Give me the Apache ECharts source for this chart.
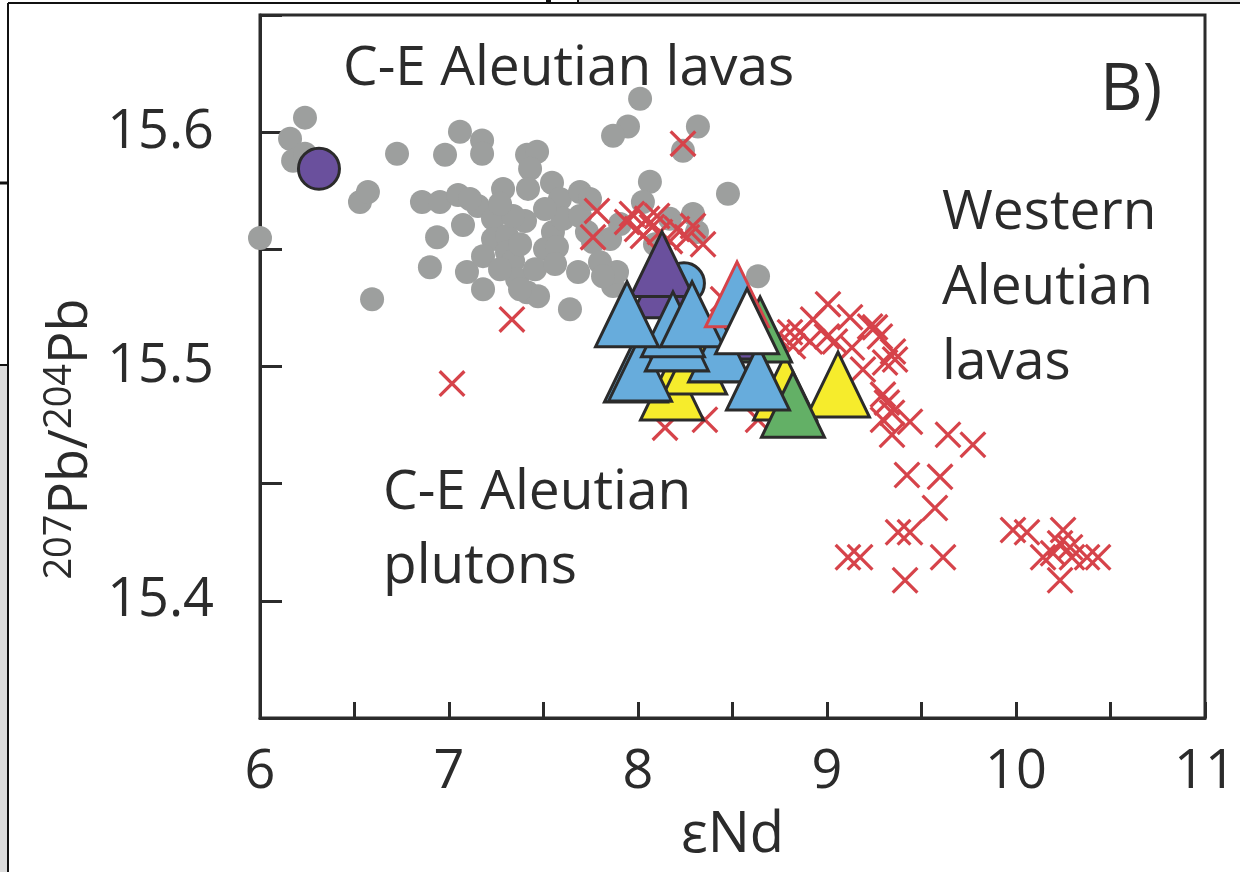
<!DOCTYPE html>
<html>
<head>
<meta charset="utf-8">
<title>207Pb/204Pb vs eNd</title>
<script src="https://cdn.jsdelivr.net/npm/echarts@6/dist/echarts.min.js"></script>
<style>
html, body { margin: 0; padding: 0; background: #fff; }
#chart { width: 1240px; height: 872px; }
</style>
</head>
<body>
<div id="chart"></div>
<script>
// eNd vs 207Pb/204Pb
const ceLavas = [
  [6.000, 15.5548], [6.159, 15.5972], [6.175, 15.5878], [6.238, 15.6062], [6.238, 15.5908],
  [6.529, 15.5702], [6.571, 15.5745], [6.593, 15.5287], [6.725, 15.5908], [6.857, 15.5702],
  [6.952, 15.5702], [7.048, 15.5732], [6.979, 15.5904], [7.058, 15.6002], [7.175, 15.5964],
  [7.175, 15.5908], [7.413, 15.5904], [7.466, 15.5916], [7.429, 15.5844], [7.545, 15.5784],
  [7.286, 15.5758], [7.153, 15.5685], [7.074, 15.5604], [6.937, 15.5552], [6.899, 15.5424],
  [7.095, 15.5403], [7.180, 15.5330], [7.233, 15.5630], [7.233, 15.5544], [7.180, 15.5471],
  [7.307, 15.5557], [7.307, 15.5488], [7.339, 15.5450], [7.360, 15.5373], [7.413, 15.5317],
  [7.471, 15.5300], [7.402, 15.5621], [7.339, 15.5642], [7.587, 15.5715], [7.550, 15.5574],
  [7.508, 15.5501], [7.693, 15.5745], [7.852, 15.5544], [7.762, 15.5531], [7.799, 15.5445],
  [7.683, 15.5403], [7.640, 15.5244], [7.868, 15.5343], [7.889, 15.5403], [8.011, 15.6143],
  [7.947, 15.6024], [7.868, 15.5985], [8.063, 15.5788], [8.026, 15.5702], [8.317, 15.6024],
  [8.238, 15.5921], [8.476, 15.5737], [8.291, 15.5651], [8.169, 15.5630], [8.312, 15.5574],
  [8.635, 15.5385], [7.418, 15.5758], [7.603, 15.5630], [7.693, 15.5642], [7.571, 15.5510],
  [7.730, 15.5574], [7.376, 15.5330], [7.815, 15.5385], [7.111, 15.5715], [7.270, 15.5694],
  [7.508, 15.5672], [7.376, 15.5522], [7.270, 15.5415], [7.455, 15.5415], [7.561, 15.5437],
  [7.746, 15.5715], [7.905, 15.5608], [8.090, 15.5522]
];

const westLavas = [
  [7.016, 15.4927], [7.333, 15.5201], [8.238, 15.5951], [7.783, 15.5664], [7.762, 15.5552],
  [7.942, 15.5617], [7.995, 15.5587], [8.048, 15.5630], [8.026, 15.5557], [8.101, 15.5642],
  [8.116, 15.5574], [8.206, 15.5587], [8.291, 15.5600], [8.344, 15.5522], [8.259, 15.5552],
  [8.169, 15.5535], [7.968, 15.5651], [8.074, 15.5595], [8.143, 15.4739], [8.354, 15.4773],
  [8.635, 15.4773], [8.450, 15.5287], [8.566, 15.5073], [9.005, 15.5266], [9.122, 15.5210],
  [9.254, 15.5167], [9.349, 15.5064], [9.360, 15.5030], [8.910, 15.5107], [9.042, 15.5107],
  [9.132, 15.5081], [9.190, 15.4987], [9.296, 15.4880], [9.317, 15.4846], [9.344, 15.4803],
  [9.296, 15.4773], [9.344, 15.4709], [9.439, 15.4764], [9.640, 15.4709], [9.772, 15.4666],
  [9.423, 15.4537], [9.598, 15.4529], [9.571, 15.4396], [9.376, 15.4293], [9.439, 15.4293],
  [9.111, 15.4186], [9.175, 15.4186], [9.614, 15.4186], [9.413, 15.4088], [9.984, 15.4302],
  [10.058, 15.4293], [10.249, 15.4302], [10.233, 15.4246], [10.143, 15.4186], [10.296, 15.4186],
  [10.376, 15.4186], [10.434, 15.4186], [10.233, 15.4088], [10.286, 15.4229], [10.196, 15.4203],
  [8.857, 15.5146], [8.804, 15.5146], [8.735, 15.5128], [8.820, 15.5086], [8.926, 15.5201],
  [9.000, 15.5128], [9.228, 15.5171], [9.280, 15.5128], [9.307, 15.5017]
];

// C-E Aleutian plutons
const yellowTri = [[8.180, 15.4910], [8.302, 15.5021], [8.778, 15.4910], [9.058, 15.4923]];
const greenTri = [[8.646, 15.5158], [8.820, 15.4837]];
const blueCircle = [[8.243, 15.5355]];
const purpleTri = [[8.503, 15.5171], [8.127, 15.5347], [8.127, 15.5437]];
const blueTri = [
  [8.434, 15.5073], [7.989, 15.4987], [8.011, 15.4991], [8.206, 15.5120], [8.185, 15.5180],
  [7.942, 15.5223], [8.286, 15.5223], [8.635, 15.4953]
];
const blueRedTri = [[8.524, 15.5308]];
const whiteTri = [[8.577, 15.5193]];
const purpleCircle = [[6.312, 15.5844]];

const xTicks = [6, 7, 8, 9, 10, 11];
const yTicks = [15.4, 15.5, 15.6];

const ink = '#2b2b2b';
const font = '"Open Sans", sans-serif';
const crossPath = 'path://M0,1.7L1.7,0L20,18.3L18.3,20ZM18.3,0L20,1.7L1.7,20L0,18.3Z';

function triSeries(data, color, border, z) {
  return {
    type: 'scatter', data: data, symbol: 'triangle', symbolSize: [63, 65], z: z,
    itemStyle: { color: color, borderColor: border || ink, borderWidth: 3, opacity: 1 }
  };
}

const chart = echarts.init(document.getElementById('chart'));
chart.setOption({
  animation: false,
  backgroundColor: '#fff',
  grid: { left: 260, right: 35, top: 15, bottom: 154, show: true, borderColor: ink, borderWidth: 3 },
  xAxis: {
    type: 'value', min: 6, max: 11, interval: 0.5,
    name: 'εNd', nameLocation: 'middle', nameGap: 90,
    nameTextStyle: { fontFamily: font, fontSize: 56, color: ink },
    axisLine: { lineStyle: { color: ink, width: 3 } },
    axisTick: { inside: true, length: 16, lineStyle: { color: ink, width: 3 } },
    splitLine: { show: false },
    axisLabel: {
      margin: 28, fontFamily: font, fontSize: 54, color: ink,
      formatter: function (v) { return xTicks.indexOf(v) >= 0 ? String(v) : ''; }
    }
  },
  yAxis: {
    type: 'value', min: 15.35, max: 15.65, interval: 0.05,
    axisLine: { lineStyle: { color: ink, width: 3 } },
    axisTick: { inside: true, length: 22, lineStyle: { color: ink, width: 3 } },
    splitLine: { show: false },
    axisLabel: {
      margin: 46, fontFamily: font, fontSize: 54, color: ink,
      formatter: function (v) {
        for (let i = 0; i < yTicks.length; i++) {
          if (Math.abs(v - yTicks[i]) < 1e-6) return yTicks[i].toFixed(1);
        }
        return '';
      }
    }
  },
  graphic: [
    // bits of neighbouring panels at the crop edges
    { type: 'rect', shape: { x: 0, y: 365, width: 8, height: 507 }, style: { fill: '#dcdcdc' }, silent: true },
    { type: 'rect', shape: { x: 578, y: 0, width: 662, height: 3 }, style: { fill: '#dcdcdc' }, silent: true },
    { type: 'line', shape: { x1: 8, y1: 3, x2: 1240, y2: 3 }, style: { stroke: '#111', lineWidth: 2 }, silent: true },
    { type: 'line', shape: { x1: 8, y1: 3, x2: 8, y2: 872 }, style: { stroke: '#111', lineWidth: 2 }, silent: true },
    { type: 'line', shape: { x1: 0, y1: 183, x2: 8, y2: 183 }, style: { stroke: '#111', lineWidth: 3 }, silent: true },
    { type: 'line', shape: { x1: 0, y1: 365, x2: 8, y2: 365 }, style: { stroke: '#111', lineWidth: 2 }, silent: true },
    { type: 'line', shape: { x1: 578, y1: 0, x2: 578, y2: 4 }, style: { stroke: '#111', lineWidth: 2 }, silent: true },
    { type: 'rect', shape: { x: 546, y: 0, width: 5, height: 4 }, style: { fill: '#111' }, silent: true },
    // annotations
    { type: 'text', x: 343, y: 69, z: 50, style: { text: 'C-E Aleutian lavas', font: '55px "Open Sans", sans-serif', fill: ink, verticalAlign: 'middle' } },
    { type: 'text', x: 1100, y: 91, z: 50, style: { text: 'B)', font: '66px "Open Sans", sans-serif', fill: ink, verticalAlign: 'middle' } },
    { type: 'text', x: 942, y: 288, z: 50, style: { text: 'Western\nAleutian\nlavas', font: '55px "Open Sans", sans-serif', lineHeight: 75, fill: ink, verticalAlign: 'middle' } },
    { type: 'text', x: 383, y: 530, z: 50, style: { text: 'C-E Aleutian\nplutons', font: '55px "Open Sans", sans-serif', lineHeight: 74, fill: ink, verticalAlign: 'middle' } },
    {
      type: 'text', x: 70, y: 439, rotation: Math.PI / 2, z: 50,
      style: {
        text: '{s|207}{m|Pb/}{s|204}{m|Pb}', align: 'center', verticalAlign: 'middle',
        rich: {
          m: { fontFamily: font, fontSize: 54, lineHeight: 58, fill: ink, verticalAlign: 'bottom' },
          s: { fontFamily: font, fontSize: 38, lineHeight: 40, fill: ink, verticalAlign: 'top' }
        }
      }
    }
  ],
  series: [
    { type: 'scatter', data: ceLavas, symbol: 'circle', symbolSize: 24, z: 2, itemStyle: { color: '#9d9f9e', opacity: 1 } },
    { type: 'scatter', data: westLavas, symbol: crossPath, symbolSize: 27, z: 3, itemStyle: { color: '#d6434a', opacity: 1 } },
    triSeries(yellowTri, '#f6ec2c', null, 4),
    triSeries(greenTri, '#63b066', null, 5),
    { type: 'scatter', data: blueCircle, symbol: 'circle', symbolSize: 41, z: 6, itemStyle: { color: '#67acdc', borderColor: ink, borderWidth: 3, opacity: 1 } },
    { type: 'scatter', data: purpleCircle, symbol: 'circle', symbolSize: 41, z: 6, itemStyle: { color: '#6a509d', borderColor: ink, borderWidth: 3, opacity: 1 } },
    triSeries(purpleTri, '#6a509d', null, 7),
    triSeries(blueTri, '#67acdc', null, 8),
    triSeries(blueRedTri, '#67acdc', '#d6434a', 9),
    triSeries(whiteTri, '#ffffff', null, 10)
  ]
});
</script>
</body>
</html>
